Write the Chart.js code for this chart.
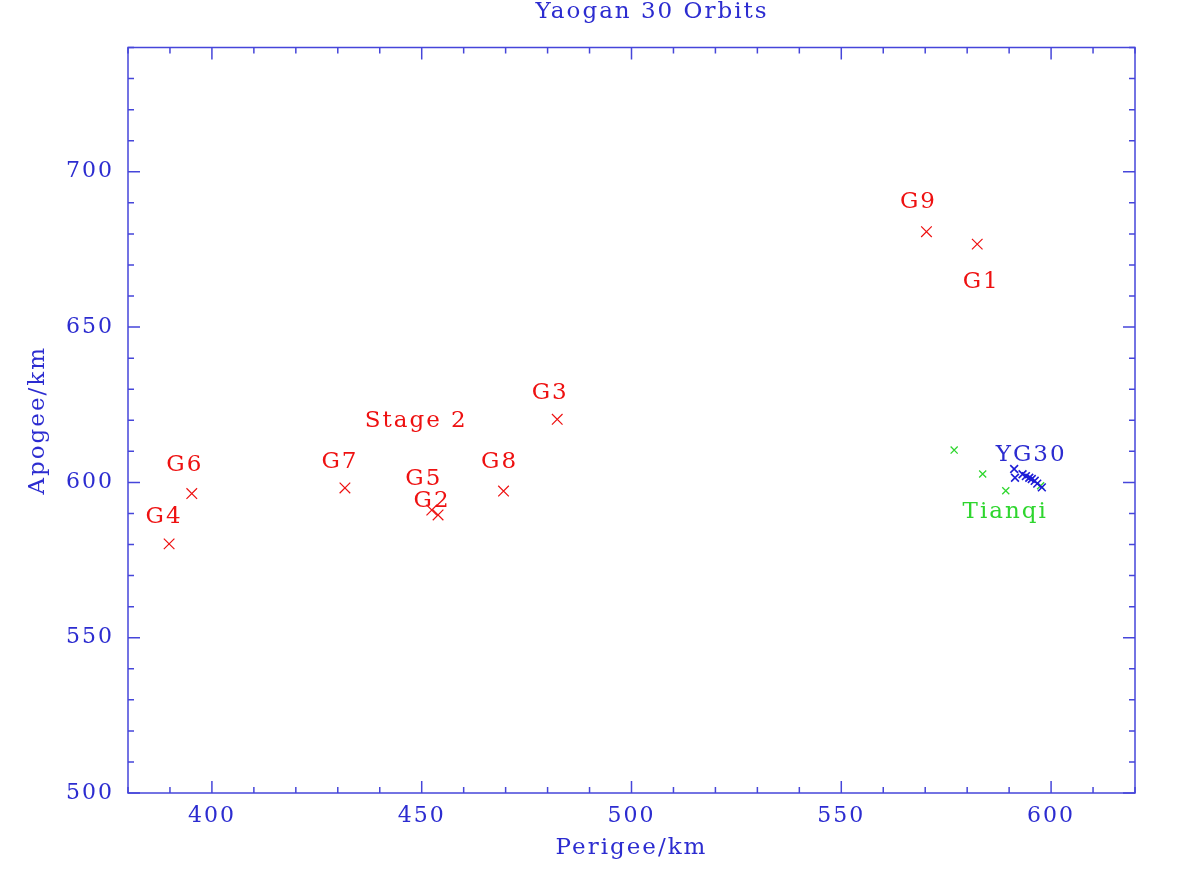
<!DOCTYPE html>
<html lang="en">
<head>
<meta charset="UTF-8">
<title>Yaogan 30 Orbits</title>
<script src="https://cdn.jsdelivr.net/npm/chart.js"></script>
<style>
  html, body { margin: 0; padding: 0; background: #fff; }
</style>
</head>
<body>
<canvas id="orbits" width="1199" height="890"></canvas>
<script>
// axis limits and labelled ticks
const xRange = [380, 620];
const yRange = [500, 740];
const xTickLabels = [400, 450, 500, 550, 600];
const yTickLabels = [500, 550, 600, 650, 700];

// Yaogan 30 debris / fragments (red)
const fragNames = ['G1', 'G2', 'G3', 'G4', 'G5', 'G6', 'G7', 'G8', 'G9'];
const fragPerigee = [582.4, 453.9, 482.3, 389.8, 452.4, 395.2, 431.7, 469.5, 570.3];
const fragApogee = [676.7, 589.5, 620.3, 580.2, 591.1, 596.4, 598.2, 597.2, 680.7];

// Tianqi satellites (green)
const tianqiPerigee = [576.9, 583.7, 589.2, 597.5];
const tianqiApogee = [610.4, 602.7, 597.3, 598.9];

// Yaogan 30 satellites (blue)
const yg30Perigee = [591.2, 591.4, 593.2, 594.0, 594.8, 595.4, 596.1, 596.7, 597.8];
const yg30Apogee = [604.3, 601.5, 602.6, 602.0, 601.5, 601.1, 600.5, 599.6, 598.4];

// colours / style
const axisBlue = '#4646da';
const textBlue = '#2c2cd0';
const red = '#ee1111';
const green = '#2ed62e';
const serif = "'DejaVu Serif', 'Liberation Serif', serif";

// label placement, pixel offset from the marker to the centre of the text
const fragLabelOffset = {
  G1: [3, 35], G2: [-7, -16], G3: [-8, -29], G4: [-6, -29], G5: [-9, -33],
  G6: [-8, -31], G7: [-6, -28], G8: [-5, -31], G9: [-9, -32]
};
const extraLabels = [
  {text: 'Stage 2', px: fragPerigee, ap: fragApogee, i: 2, dx: -142, dy: -1, color: red},
  {text: 'YG30', px: yg30Perigee, ap: yg30Apogee, i: 0, dx: 16, dy: -16.5, color: textBlue},
  {text: 'Tianqi', px: tianqiPerigee, ap: tianqiApogee, i: 2, dx: -1.5, dy: 19, color: green}
];

function pts(xs, ys) {
  return xs.map((v, i) => ({x: v, y: ys[i]}));
}

function spacing(chart) {
  chart.ctx.letterSpacing = '2px';
}

function capText(ctx, text, cx, cy, size, color) {
  ctx.font = size + 'px ' + serif;
  ctx.fillStyle = color;
  ctx.textAlign = 'center';
  ctx.textBaseline = 'alphabetic';
  ctx.fillText(text, cx + 1, cy + size * 0.729 / 2);
}

const pgplotFrame = {
  id: 'pgplotFrame',
  beforeUpdate: spacing,
  beforeDraw: spacing,
  afterDraw(chart) {
    const {ctx, chartArea: a, scales: {x, y}} = chart;
    ctx.save();
    ctx.letterSpacing = '2px';
    ctx.strokeStyle = axisBlue;
    ctx.lineWidth = 1.5;
    ctx.strokeRect(a.left, a.top, a.right - a.left, a.bottom - a.top);

    // inward ticks on all four sides, minor every 10, major every 50
    ctx.beginPath();
    for (let v = xRange[0]; v <= xRange[1]; v += 10) {
      const p = x.getPixelForValue(v);
      const len = v % 50 === 0 ? 12 : 6;
      ctx.moveTo(p, a.bottom); ctx.lineTo(p, a.bottom - len);
      ctx.moveTo(p, a.top); ctx.lineTo(p, a.top + len);
    }
    for (let v = yRange[0]; v <= yRange[1]; v += 10) {
      const p = y.getPixelForValue(v);
      const len = v % 50 === 0 ? 12 : 6;
      ctx.moveTo(a.left, p); ctx.lineTo(a.left + len, p);
      ctx.moveTo(a.right, p); ctx.lineTo(a.right - len, p);
    }
    ctx.stroke();

    // title
    capText(ctx, 'Yaogan 30 Orbits', 651, 10, 23, textBlue);

    // marker labels
    fragNames.forEach((n, i) => {
      const o = fragLabelOffset[n];
      capText(ctx, n, x.getPixelForValue(fragPerigee[i]) + o[0],
        y.getPixelForValue(fragApogee[i]) + o[1], 23, red);
    });
    extraLabels.forEach(l => {
      capText(ctx, l.text, x.getPixelForValue(l.px[l.i]) + l.dx,
        y.getPixelForValue(l.ap[l.i]) + l.dy, 23, l.color);
    });
    ctx.restore();
  }
};

const ctx = document.getElementById('orbits').getContext('2d');
const chart = new Chart(ctx, {
  type: 'scatter',
  data: {
    datasets: [
      {
        label: 'YG30',
        data: pts(yg30Perigee, yg30Apogee),
        pointStyle: 'crossRot',
        pointRadius: 5.5,
        borderColor: '#1c1cd6',
        pointBorderWidth: 1.6
      },
      {
        label: 'Tianqi',
        data: pts(tianqiPerigee, tianqiApogee),
        pointStyle: 'crossRot',
        pointRadius: 5,
        borderColor: green,
        pointBorderWidth: 1.3
      },
      {
        label: 'Fragments',
        data: pts(fragPerigee, fragApogee),
        pointStyle: 'crossRot',
        pointRadius: 7.5,
        borderColor: red,
        pointBorderWidth: 1.2
      }
    ]
  },
  options: {
    responsive: false,
    animation: false,
    events: [],
    layout: {padding: {left: 0, right: 64, top: 47.5, bottom: 0}},
    plugins: {
      legend: {display: false},
      tooltip: {enabled: false},
      title: {display: false}
    },
    scales: {
      x: {
        type: 'linear',
        min: xRange[0],
        max: xRange[1],
        afterBuildTicks(s) { s.ticks = xTickLabels.map(v => ({value: v})); },
        afterFit(s) { s.height = 97; },
        grid: {display: false, drawTicks: false, tickLength: 0},
        border: {display: false},
        ticks: {color: textBlue, font: {family: serif, size: 22}, padding: 10, maxRotation: 0, autoSkip: false},
        title: {display: true, text: 'Perigee/km', color: textBlue, font: {family: serif, size: 23}, padding: {top: 0, bottom: 28}}
      },
      y: {
        type: 'linear',
        min: yRange[0],
        max: yRange[1],
        afterBuildTicks(s) { s.ticks = yTickLabels.map(v => ({value: v})); },
        afterFit(s) { s.width = 128; },
        grid: {display: false, drawTicks: false, tickLength: 0},
        border: {display: false},
        ticks: {color: textBlue, font: {family: serif, size: 22}, padding: 14, autoSkip: false},
        title: {display: true, text: 'Apogee/km', color: textBlue, font: {family: serif, size: 23}, padding: {top: 24.5, bottom: 0}}
      }
    }
  },
  plugins: [pgplotFrame]
});
</script>
</body>
</html>
